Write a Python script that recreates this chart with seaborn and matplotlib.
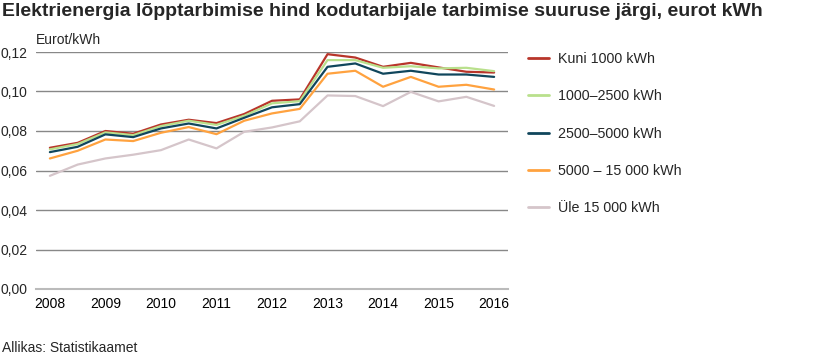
import matplotlib
matplotlib.use("Agg")
import matplotlib.pyplot as plt
import matplotlib.ticker as mticker
import seaborn as sns
import pandas as pd
import numpy as np

# half-year periods, 2008 .. 2016
periods = ["2008", "2008-2", "2009", "2009-2", "2010", "2010-2", "2011", "2011-2",
           "2012", "2012-2", "2013", "2013-2", "2014", "2014-2", "2015", "2015-2", "2016"]
year_labels = ["2008", "2009", "2010", "2011", "2012", "2013", "2014", "2015", "2016"]

kuni_1000 = [0.0715, 0.0740, 0.0800, 0.0786, 0.0833, 0.0857, 0.0840, 0.0886, 0.0953,
             0.0960, 0.1189, 0.1172, 0.1125, 0.1145, 0.1122, 0.1100, 0.1096]
r1000_2500 = [0.0707, 0.0734, 0.0793, 0.0779, 0.0825, 0.0852, 0.0831, 0.0877, 0.0940,
              0.0951, 0.1159, 0.1159, 0.1120, 0.1128, 0.1117, 0.1120, 0.1103]
r2500_5000 = [0.0693, 0.0720, 0.0783, 0.0769, 0.0813, 0.0838, 0.0813, 0.0867, 0.0920,
              0.0936, 0.1125, 0.1142, 0.1090, 0.1105, 0.1086, 0.1086, 0.1074]
r5000_15000 = [0.0661, 0.0700, 0.0757, 0.0749, 0.0791, 0.0820, 0.0784, 0.0852, 0.0889,
               0.0912, 0.1090, 0.1105, 0.1024, 0.1074, 0.1024, 0.1034, 0.1010]
ule_15000 = [0.0573, 0.0630, 0.0661, 0.0680, 0.0703, 0.0757, 0.0712, 0.0796, 0.0818,
             0.0849, 0.0980, 0.0977, 0.0926, 0.0998, 0.0950, 0.0973, 0.0927]

series_names = ["Kuni 1000 kWh", "1000\u20132500 kWh", "2500\u20135000 kWh",
                "5000 \u2013 15 000 kWh", "\u00dcle 15 000 kWh"]
colors = ["#b8352a", "#b9e08c", "#10465c", "#ffa23f", "#d5c5ca"]

frames = []
for name, vals in zip(series_names,
                      [kuni_1000, r1000_2500, r2500_5000, r5000_15000, ule_15000]):
    frames.append(pd.DataFrame({"pos": np.arange(len(periods)), "value": vals, "series": name}))
df = pd.concat(frames, ignore_index=True)

sns.set_style("white")
plt.rcParams["font.family"] = ["Liberation Sans", "DejaVu Sans"]

fig = plt.figure(figsize=(8.14, 3.57), dpi=100)
ax = fig.add_axes([36 / 814, 1 - 289 / 357, (508 - 36) / 814, (289 - 52) / 357])

sns.lineplot(data=df, x="pos", y="value", hue="series", palette=colors,
             hue_order=series_names, linewidth=1.6, ax=ax, legend=False, zorder=3)

ax.set_xlim(-0.5, len(periods) - 0.5)
ax.set_ylim(0, 0.12)
ax.set_yticks(np.arange(0, 0.121, 0.02))
ax.yaxis.set_major_formatter(mticker.FuncFormatter(lambda v, p: f"{v:.2f}".replace(".", ",")))
ax.set_xticks(np.arange(0, len(periods), 2))
ax.set_xticklabels(year_labels)
ax.set_xticks(np.arange(-0.5, len(periods), 1), minor=True)
ax.tick_params(axis="x", which="major", length=0, pad=6, labelsize=10, colors="black")
ax.tick_params(axis="x", which="minor", length=4, width=1, color="#888888")
ax.tick_params(axis="y", length=0, pad=6, labelsize=10)
ax.set_xlabel("")
ax.set_ylabel("")
ax.grid(axis="y", color="#888888", linewidth=1)
ax.grid(axis="x", visible=False)
for s in ["top", "right", "left"]:
    ax.spines[s].set_visible(False)
ax.spines["bottom"].set_color("#bbbbbb")
ax.spines["bottom"].set_linewidth(1.5)

fig.text(36 / 814, 1 - 40 / 357, "Eurot/kWh", fontsize=10, va="center", ha="left")
fig.text(2 / 814, 1 - 12 / 357,
         "Elektrienergia l\u00f5pptarbimise hind kodutarbijale tarbimise suuruse j\u00e4rgi, eurot kWh",
         fontsize=14, fontweight="bold", va="center", ha="left")
fig.text(2 / 814, 1 - 348 / 357, "Allikas: Statistikaamet", fontsize=10, va="center", ha="left")

# legend on the right
handles = [plt.Line2D([], [], color=c, linewidth=2) for c in colors]
fig.legend(handles, series_names, loc="upper left", bbox_to_anchor=(515 / 814, 1 - 39 / 357),
           frameon=False, fontsize=10.3, handlelength=1.45, handletextpad=0.65,
           labelspacing=1.63)

fig.savefig("out.png", dpi=100)
